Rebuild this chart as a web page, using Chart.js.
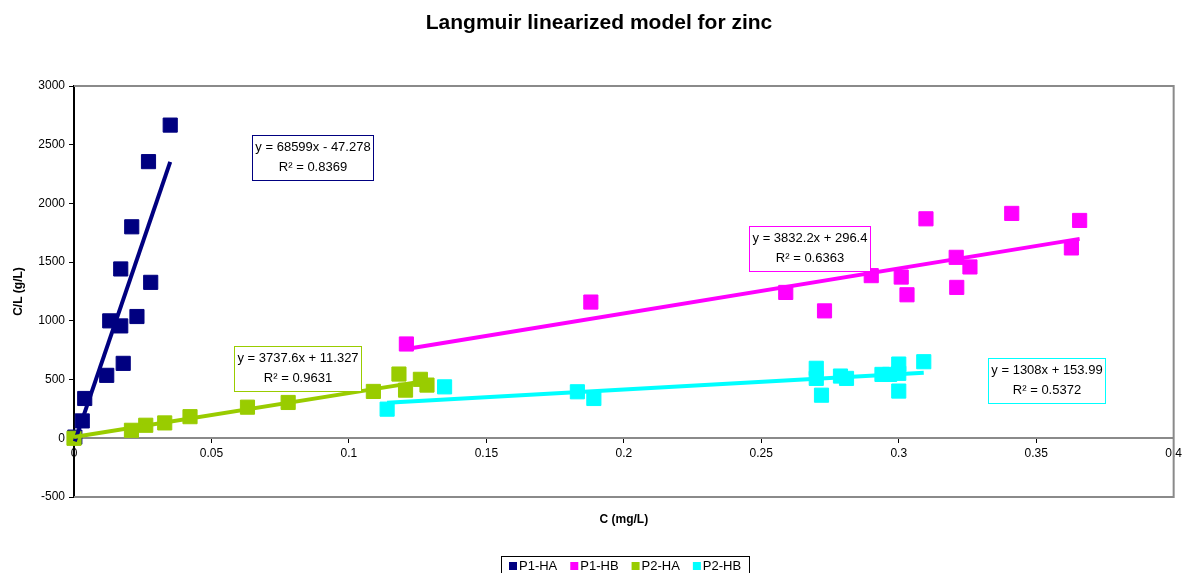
<!DOCTYPE html>
<html>
<head>
<meta charset="utf-8">
<title>Langmuir linearized model for zinc</title>
<script src="https://cdn.jsdelivr.net/npm/chart.js@4.4.1/dist/chart.umd.min.js"></script>
<style>
  html, body { margin: 0; padding: 0; background: #fff; }
  canvas { display: block; }
</style>
</head>
<body>
<canvas id="langmuirChart" width="1186" height="573"></canvas>
<script>
const series = ["P1-HA", "P1-HB", "P2-HA", "P2-HB"];
const colores = ["#000080", "#FF00FF", "#99CC00", "#00FFFF"];

// C (mg/L) y C/L (g/L) de cada serie
const p1haC  = [0.0003, 0.0030, 0.0039, 0.0119, 0.0130, 0.0170, 0.0179, 0.0170, 0.0229, 0.0210, 0.0279, 0.0271, 0.0350];
const p1haCL = [10, 148, 339, 536, 1000, 957, 638, 1442, 1037, 1801, 1328, 2356, 2667];

const p1hbC  = [0.1209, 0.1880, 0.2589, 0.2730, 0.2900, 0.3009, 0.3030, 0.3099, 0.3209, 0.3211, 0.3259, 0.3411, 0.3628, 0.3658];
const p1hbCL = [803, 1160, 1242, 1085, 1385, 1373, 1222, 1869, 1541, 1285, 1459, 1915, 1621, 1855];

const p2haC  = [0, 0.0209, 0.0261, 0.0330, 0.0422, 0.0631, 0.0779, 0.1089, 0.1182, 0.1206, 0.1260, 0.1284];
const p2haCL = [0, 68, 111, 131, 184, 265, 305, 399, 547, 410, 502, 453];

const p2hbC  = [0.1139, 0.1348, 0.1831, 0.1891, 0.2700, 0.2700, 0.2719, 0.2788, 0.2810, 0.2939, 0.2967, 0.3000, 0.3000, 0.3000, 0.3091];
const p2hbCL = [248, 438, 396, 339, 596, 510, 367, 530, 510, 544, 544, 632, 553, 402, 652];

// lineas de tendencia (Excel)
const pendientes = [68599, 3832.2, 3737.6, 1308];
const intercepts = [-47.278, 296.4, 11.327, 153.99];
const r2 = [0.8369, 0.6363, 0.9631, 0.5372];

const ticksX = [0, 0.05, 0.1, 0.15, 0.2, 0.25, 0.3, 0.35, 0.4];
const ticksY = [-500, 0, 500, 1000, 1500, 2000, 2500, 3000];

const FUENTE = "'Liberation Sans', Arial, sans-serif";

// esquina superior izquierda de cada caja de ecuacion, en unidades del grafico
const cajasEcuacion = [
  { x: 0.0647, y: 2581 },
  { x: 0.2456, y: 1812 },
  { x: 0.0581, y: 786 },
  { x: 0.3324, y: 681 }
];

function armarPuntos(xs, ys) {
  return xs.map((x, i) => ({ x: x, y: ys[i] }));
}

function lineaTendencia(i, xs) {
  const xmin = Math.min(...xs);
  const xmax = Math.max(...xs);
  return [
    { x: xmin, y: pendientes[i] * xmin + intercepts[i] },
    { x: xmax, y: pendientes[i] * xmax + intercepts[i] }
  ];
}

function ecuacion(i) {
  const b = intercepts[i];
  return "y = " + pendientes[i] + "x " + (b < 0 ? "- " : "+ ") + Math.abs(b);
}

const marcoPlugin = {
  id: "marco",
  beforeDatasetsDraw(chart) {
    const { ctx, chartArea: a } = chart;
    ctx.save();
    ctx.strokeStyle = "#8a8a8a";
    ctx.lineWidth = 2;
    ctx.beginPath();
    ctx.moveTo(a.left, a.top);
    ctx.lineTo(a.right, a.top);
    ctx.lineTo(a.right, a.bottom);
    ctx.lineTo(a.left, a.bottom);
    ctx.stroke();
    ctx.restore();
  }
};

const textosPlugin = {
  id: "textos",
  afterDatasetsDraw(chart) {
    const { ctx, chartArea: a, scales } = chart;
    ctx.save();

    // cajas con ecuaciones
    ctx.font = "13px " + FUENTE;
    ctx.textAlign = "center";
    ctx.textBaseline = "middle";
    cajasEcuacion.forEach((c, i) => {
      const l1 = ecuacion(i);
      const l2 = "R\u00B2 = " + r2[i];
      const w = Math.round(Math.max(ctx.measureText(l1).width, ctx.measureText(l2).width) + 6);
      const px = Math.round(scales.x.getPixelForValue(c.x)) + 0.5;
      const py = Math.round(scales.y.getPixelForValue(c.y)) + 0.5;
      ctx.fillStyle = "#fff";
      ctx.fillRect(px, py, w, 45);
      ctx.strokeStyle = colores[i];
      ctx.lineWidth = 1;
      ctx.strokeRect(px, py, w, 45);
      ctx.fillStyle = "#000";
      ctx.fillText(l1, px + w / 2, py + 12);
      ctx.fillText(l2, px + w / 2, py + 31.5);
    });

    // titulo
    ctx.font = "bold 21px " + FUENTE;
    ctx.fillText("Langmuir linearized model for zinc", 599, 23);

    // titulo eje x
    const cx = (a.left + a.right) / 2;
    ctx.font = "bold 12px " + FUENTE;
    ctx.fillText("C (mg/L)", cx, 520);

    // leyenda
    ctx.font = "13px " + FUENTE;
    const anchos = series.map(s => ctx.measureText(s).width);
    const total = anchos.reduce((s, w) => s + w + 10, 0) + 13 * (series.length - 1);
    const izq = Math.round(cx - total / 2 - 7) + 0.5;
    ctx.fillStyle = "#fff";
    ctx.fillRect(izq, 556.5, total + 16, 30);
    ctx.strokeStyle = "#000";
    ctx.strokeRect(izq, 556.5, Math.round(total + 16), 30);
    let x = izq + 7.5;
    ctx.textAlign = "left";
    series.forEach((s, i) => {
      ctx.fillStyle = colores[i];
      ctx.fillRect(x, 562, 8, 8);
      ctx.fillStyle = "#000";
      ctx.fillText(s, x + 10, 566.5);
      x += 10 + anchos[i] + 13;
    });
    ctx.restore();
  }
};

function datasetSerie(i, xs, ys) {
  return {
    label: series[i],
    data: armarPuntos(xs, ys),
    backgroundColor: colores[i],
    borderColor: colores[i],
    pointStyle: "rect",
    pointRadius: 10,
    pointHoverRadius: 10,
    pointBorderWidth: 1,
    showLine: false,
    clip: false,
    order: 8 - i
  };
}

function datasetTendencia(i, xs) {
  return {
    label: series[i] + " tendencia",
    data: lineaTendencia(i, xs),
    borderColor: colores[i],
    backgroundColor: colores[i],
    borderWidth: 4,
    borderCapStyle: "butt",
    pointRadius: 0,
    pointHoverRadius: 0,
    showLine: true,
    clip: false,
    order: 4 - i
  };
}

document.addEventListener("DOMContentLoaded", () => {
  Chart.defaults.font.family = FUENTE;
  Chart.defaults.font.size = 12;
  Chart.defaults.color = "#000";

  const ctx = document.getElementById("langmuirChart");
  new Chart(ctx, {
    type: "scatter",
    data: {
      datasets: [
        datasetSerie(0, p1haC, p1haCL),
        datasetSerie(1, p1hbC, p1hbCL),
        datasetSerie(2, p2haC, p2haCL),
        datasetSerie(3, p2hbC, p2hbCL),
        datasetTendencia(0, p1haC),
        datasetTendencia(1, p1hbC),
        datasetTendencia(2, p2haC),
        datasetTendencia(3, p2hbC)
      ]
    },
    options: {
      responsive: false,
      animation: false,
      devicePixelRatio: 1,
      layout: { padding: { top: 86, right: 8, bottom: 76, left: 0 } },
      plugins: {
        legend: { display: false },
        title: { display: false },
        tooltip: { enabled: false }
      },
      scales: {
        x: {
          type: "linear",
          position: { y: 0 },
          min: 0,
          max: 0.4,
          afterBuildTicks: s => { s.ticks = ticksX.map(v => ({ value: v })); },
          ticks: {
            callback: v => String(+v.toFixed(2)),
            padding: 4,
            maxRotation: 0,
            autoSkip: false
          },
          grid: { drawOnChartArea: false, drawTicks: true, tickLength: 4, color: "#000" },
          border: { color: "#8a8a8a", width: 2 }
        },
        y: {
          min: -500,
          max: 3000,
          afterBuildTicks: s => { s.ticks = ticksY.map(v => ({ value: v })); },
          afterFit: s => { s.width = 74; },
          ticks: { callback: v => String(v), padding: 4 },
          grid: { drawOnChartArea: false, drawTicks: true, tickLength: 5, color: "#000" },
          border: { color: "#000", width: 2 },
          title: {
            display: true,
            text: "C/L (g/L)",
            font: { weight: "bold", size: 12 },
            padding: { top: 11 }
          }
        }
      }
    },
    plugins: [marcoPlugin, textosPlugin]
  });
});
</script>
</body>
</html>
